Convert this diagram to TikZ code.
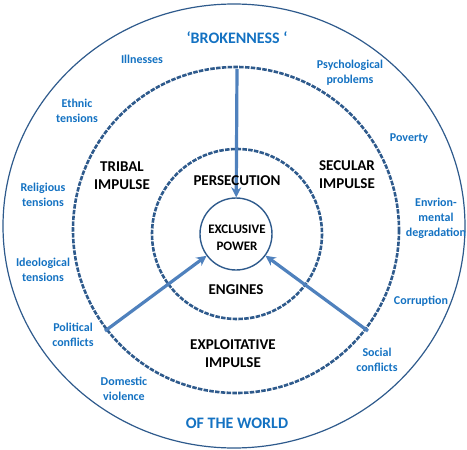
\documentclass[tikz,border=0pt]{standalone}
\usepackage{fontspec}
\setmainfont{Carlito}
\usetikzlibrary{arrows.meta}
\definecolor{ringblue}{HTML}{2E5A8C}
\definecolor{arrowblue}{HTML}{4F81BD}
\definecolor{textblue}{HTML}{1472C2}
\tikzset{
  outerring/.style={draw=ringblue, line width=1.2pt},
  dashring/.style={draw=ringblue, line width=2.6pt, dash pattern=on 4.5pt off 1.3pt},
  corering/.style={circle, draw=ringblue, line width=1.4pt, minimum size=72pt, inner sep=0pt},
  bigarrow/.style={draw=arrowblue, line width=3.2pt, -{Stealth[length=10pt,width=10pt]}},
  smalllab/.style={text=textblue, font=\fontsize{12}{15}\selectfont\bfseries, align=center, inner sep=0pt},
  titlelab/.style={text=textblue, font=\fontsize{16}{18}\selectfont\bfseries, align=center, inner sep=0pt},
  blacklab/.style={text=black, font=\fontsize{15}{18}\selectfont\bfseries, align=center, inner sep=0pt},
  corelab/.style={text=black, font=\fontsize{13}{17}\selectfont\bfseries, align=center, inner sep=0pt}
}
\begin{document}
\begin{tikzpicture}[x=1pt, y=-1pt]
\useasboundingbox (0,0) rectangle (467,450);
% rings
\draw[outerring] (234,226) ellipse [x radius=231, y radius=222];
\draw[dashring] (236,230) circle [radius=163];
\draw[dashring] (237,234) circle [radius=85];
\node[corering] (ex) at (236,234) {};
\node[corelab] (exl) at (237,238) {EXCLUSIVE\\POWER};
% arrow start points
\coordinate (top) at (237,69);
\coordinate (lft) at (105,331);
\coordinate (rgt) at (368,331);
\draw[bigarrow] (top) -- (ex);
\draw[bigarrow] (lft) -- (ex);
\draw[bigarrow] (rgt) -- (ex);
% titles
\node[titlelab] (brk) at (237,38) {‘BROKENNESS ‘};
\node[titlelab] (wld) at (237,423) {OF THE WORLD};
% black labels
\node[blacklab] (tri) at (122,176) {TRIBAL\\IMPULSE};
\node[blacklab] (sec) at (347,175) {SECULAR\\IMPULSE};
\node[blacklab] (per) at (237,181) {PERSECUTION};
\node[blacklab] (eng) at (236,290) {ENGINES};
\node[blacklab] (exp) at (233,354) {EXPLOITATIVE\\IMPULSE};
% blue labels
\node[smalllab] (ill) at (142,59) {Illnesses};
\node[smalllab] (eth) at (77,111) {Ethnic\\tensions};
\node[smalllab] (psy) at (350,73) {Psychological\\problems};
\node[smalllab] (pov) at (409,139) {Poverty};
\node[smalllab] (rel) at (43,195) {Religious\\tensions};
\node[smalllab] (env) at (436,218) {Envrion-\\mental\\degradation};
\node[smalllab] (ide) at (43,270) {Ideological\\tensions};
\node[smalllab] (cor) at (421,301) {Corruption};
\node[smalllab] (pol) at (73,335) {Political\\conflicts};
\node[smalllab] (soc) at (377,360) {Social\\conflicts};
\node[smalllab] (dom) at (124,389) {Domestic\\violence};
\end{tikzpicture}
\end{document}
